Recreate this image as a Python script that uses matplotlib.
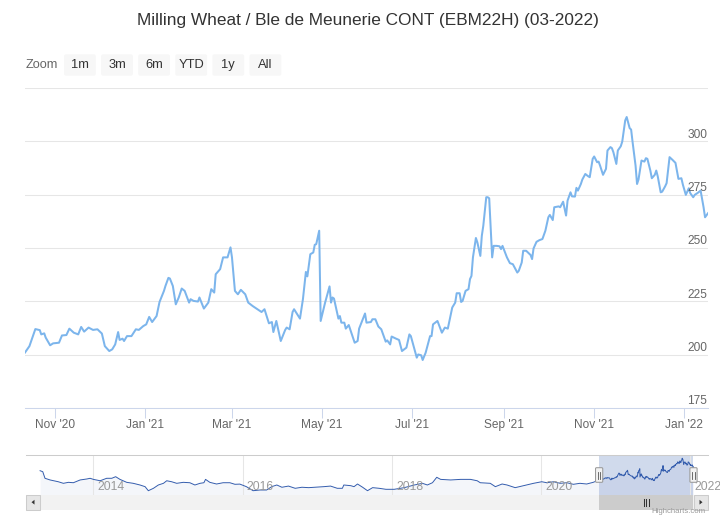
import numpy as np
import pandas as pd
import matplotlib
matplotlib.use("Agg")
import matplotlib.pyplot as plt
import matplotlib.dates as mdates
from matplotlib.patches import Rectangle, FancyBboxPatch, Polygon

plt.rcParams['font.family'] = ['Liberation Sans', 'DejaVu Sans']

# ---- data ----
title = 'Milling Wheat / Ble de Meunerie CONT (EBM22H) (03-2022)'
start = pd.Timestamp('2020-10-01')

# main series: days after 2020-10-01, price (EUR/t)
main_days = [11, 14, 18, 21, 22, 24, 25, 28, 30, 34,
             36, 39, 41, 44, 47, 49, 51, 54, 57, 60,
             63, 65, 68, 70, 72, 74, 75, 77, 78, 80,
             83, 86, 88, 91, 93, 95, 97, 100, 102, 105,
             106, 108, 109, 111, 113, 115, 117, 119, 122, 123,
             125, 128, 129, 132, 135, 137, 139, 140, 143, 145,
             148, 150, 151, 153, 155, 157, 160, 162, 165, 171,
             173, 176, 178, 179, 181, 184, 187, 188, 190, 192,
             193, 197, 199, 201, 202, 204, 206, 207, 208, 210,
             211, 214, 217, 218, 219, 220, 223, 224, 225, 227,
             228, 230, 234, 236, 237, 241, 242, 245, 246, 248,
             250, 252, 255, 256, 258, 259, 262, 264, 266, 269,
             271, 272, 276, 277, 279, 280, 282, 285, 286, 287,
             290, 293, 295, 297, 300, 302, 303, 305, 306, 307,
             309, 311, 312, 313, 314, 316, 317, 319, 320, 321,
             323, 324, 325, 327, 328, 330, 332, 333, 334, 337,
             339, 341, 344, 345, 347, 348, 350, 353, 354, 355,
             357, 359, 361, 363, 365, 366, 368, 369, 372, 373,
             375, 377, 378, 380, 381, 383, 384, 385, 387, 388,
             390, 392, 393, 395, 396, 398, 399, 400, 402, 404,
             405, 407, 408, 409, 411, 412, 414, 415, 417, 418,
             420, 421, 422, 424, 425, 426, 428, 430, 431, 432,
             434, 435, 437, 438, 439, 441, 442, 444, 445, 447,
             449, 451, 453, 455, 456, 458, 460, 461, 463, 464,
             466, 468, 470, 471, 473]
main_prices = [201, 204, 212, 211.5, 209.5, 210, 208, 204.4, 205.3, 205.6,
               209, 209.2, 212.2, 210.3, 209.5, 213, 210.8, 212.7, 211.6, 211.9,
               209.9, 204, 201.7, 202.5, 204.8, 210.6, 206.9, 207.5, 206.4, 208.7,
               208.7, 211.9, 211.6, 213.4, 214.2, 217.7, 215.3, 218.1, 224.7, 229.9,
               232.2, 236, 235.7, 232.2, 223.6, 226.8, 231, 229.9, 224.4, 226,
               225.2, 224.9, 226.8, 221.6, 224.4, 230.7, 229.1, 237.7, 240.1, 245.6,
               245.6, 250.3, 245.6, 229.9, 228.3, 230.4, 228.3, 224.4, 222.8, 220,
               221.3, 214.7, 215.3, 210.6, 215.8, 206.4, 211.6, 212.7, 211.9, 220,
               221.3, 216.9, 226, 238.8, 236.7, 247.1, 247.9, 251.5, 251.8, 258.1,
               215.8, 224.4, 232, 224.4, 226.8, 226.3, 216.9, 218.1, 215, 215,
               212.2, 213.9, 205.6, 206.4, 212.2, 219.3, 215, 215.3, 216.6, 216.6,
               213.2, 211.9, 206.1, 206.7, 204.8, 208.5, 207.5, 206.9, 201.7, 203.3,
               209.5, 208.7, 198.6, 200.1, 199.7, 197.5, 200.9, 208.7, 208.7, 214.2,
               215.8, 210.3, 212.7, 212.2, 222.1, 224.4, 228.8, 228.8, 224.7, 225.2,
               229.9, 230.7, 235.4, 236.9, 245.6, 254.7, 252.6, 246.3, 255.7, 260.4,
               273.8, 273.8, 273.3, 245.6, 251, 251, 250.8, 249.5, 251, 245.6,
               242.9, 242.4, 238.5, 239.3, 243.2, 248.7, 248.7, 246.7, 244.8, 249.8,
               252.9, 253.7, 254.2, 258.1, 264.4, 265.5, 263.1, 269.1, 269.5, 269.1,
               271.7, 265.2, 272.2, 276.1, 274.2, 274.1, 278.2, 276.9, 280, 282.1,
               284.7, 283.6, 283.2, 291.8, 292.9, 290.2, 290.5, 288.6, 284.3, 287.1,
               295.7, 297.3, 296.8, 294.9, 289.4, 295.7, 297.7, 299.9, 309.8, 311.4,
               306.2, 305.5, 299.6, 288.6, 280, 282.1, 291, 290.5, 292.1, 291.8,
               286.3, 282.7, 284.3, 286.3, 283.6, 276.1, 276.4, 278.9, 280.4, 292.6,
               291.3, 289.9, 282.4, 282.7, 279.7, 274.9, 278, 275.7, 273.8, 274.9,
               275.8, 276.9, 269.1, 264.4, 266.3]

# longer history shown in the navigator
hist_dates = ['2013-04-15', '2013-04-28', '2013-05-09', '2013-06-03', '2013-07-13',
              '2013-08-07', '2013-09-01', '2013-09-25', '2013-10-28', '2013-11-30',
              '2013-12-16', '2014-01-01', '2014-02-03', '2014-03-07', '2014-04-01',
              '2014-04-20', '2014-05-11', '2014-06-13', '2014-07-15', '2014-08-17',
              '2014-09-11', '2014-09-27', '2014-10-22', '2014-11-15', '2014-12-10',
              '2014-12-26', '2015-01-19', '2015-02-13', '2015-03-17', '2015-04-18',
              '2015-05-13', '2015-06-07', '2015-06-26', '2015-07-04', '2015-07-25',
              '2015-08-27', '2015-09-28', '2015-10-31', '2015-11-25', '2015-12-19',
              '2016-01-20', '2016-02-22', '2016-03-26', '2016-04-28', '2016-05-23',
              '2016-06-17', '2016-07-12', '2016-08-13', '2016-09-15', '2016-10-18',
              '2016-11-20', '2016-12-23', '2017-02-02', '2017-03-07', '2017-04-09',
              '2017-05-04', '2017-05-11', '2017-06-14', '2017-06-30', '2017-07-17',
              '2017-08-11', '2017-09-04', '2017-09-29', '2017-10-31', '2017-12-03',
              '2018-01-13', '2018-03-03', '2018-04-21', '2018-05-31', '2018-06-24',
              '2018-07-19', '2018-08-09', '2018-08-28', '2018-10-16', '2018-12-04',
              '2019-01-21', '2019-02-23', '2019-03-10', '2019-04-28', '2019-05-23',
              '2019-06-25', '2019-07-19', '2019-08-28', '2019-10-08', '2019-11-26',
              '2020-01-05', '2020-01-30', '2020-03-03', '2020-04-04', '2020-05-07',
              '2020-06-08', '2020-07-10', '2020-08-12', '2020-09-13']
hist_prices = [248, 243, 209.5, 201, 192, 184, 189, 187, 201, 206,
               209.5, 204, 197, 209.5, 209.5, 217.6, 204, 189, 184, 175.5,
               167, 146.5, 158.7, 175.5, 184, 197, 192, 184, 189, 187,
               175.5, 184, 187, 204, 189, 180.5, 187, 187, 179, 180,
               167, 146.5, 150, 150, 167, 175.5, 164, 170, 158.7, 164,
               162, 164, 167, 170, 158.7, 158.7, 175.5, 172, 167, 180.5,
               164, 146.5, 162, 158.7, 153.6, 153.6, 162, 175.5, 184, 175.5,
               187, 214.5, 204, 201, 204, 204, 197, 187, 184, 167,
               180.5, 175.5, 162, 172, 184, 192, 187, 192, 184, 187,
               179, 184, 180.5, 189]

y_ticks = [175, 200, 225, 250, 275, 300, 325]
nav_years = [2014, 2016, 2018, 2020, 2022]
zoom_buttons = ['1m', '3m', '6m', 'YTD', '1y', 'All']

main_dates = start + pd.to_timedelta(main_days, unit='D')
nav_dates = pd.to_datetime(hist_dates).append(main_dates)
nav_prices = hist_prices + main_prices

W, H = 720, 515
fig = plt.figure(figsize=(W / 100, H / 100), dpi=100)


def px_axes(x0, y0, x1, y1, **kw):
    return fig.add_axes([x0 / W, 1 - y1 / H, (x1 - x0) / W, (y1 - y0) / H], **kw)


# ---- main chart ----
ax = px_axes(25, 88, 708, 408)
ax.plot(main_dates, main_prices, color='#7cb5ec', lw=1.45, solid_joinstyle='round')
ax.set_xlim(main_dates[0], main_dates[-1])
ax.set_ylim(175, 325)
ax.set_yticks(y_ticks)
ax.tick_params(axis='y', length=0, labelleft=False)
ax.grid(axis='y', color='#e6e6e6', lw=0.75)
for s in ['top', 'left', 'right']:
    ax.spines[s].set_visible(False)
ax.spines['bottom'].set_color('#ccd6eb')
ax.spines['bottom'].set_linewidth(0.75)
ax.xaxis.set_major_locator(mdates.MonthLocator(bymonth=[1, 3, 5, 7, 9, 11]))
ax.xaxis.set_major_formatter(mdates.DateFormatter("%b '%y"))
ax.tick_params(axis='x', length=7.2, width=0.75, color='#ccd6eb',
               labelsize=8.6, labelcolor='#666666', pad=1)
for v in y_ticks[:-1]:
    ax.annotate(str(v), xy=(1, v), xycoords=('axes fraction', 'data'),
                xytext=(-0.5, 4.8), textcoords='offset points',
                ha='right', va='center', fontsize=8.6, color='#666666')

# ---- navigator ----
nav_x0, nav_x1 = 26, 708
nav_lim = (pd.Timestamp('2013-02-05'), pd.Timestamp('2022-03-29'))
nav = px_axes(nav_x0, 455.3, nav_x1, 495)
nav.plot(nav_dates, nav_prices, color='#335cad', lw=0.7)
nav.fill_between(nav_dates, nav_prices, 0, color='#335cad', alpha=0.05, lw=0)
nav.set_xlim(*nav_lim)
nav.set_ylim(124.7, 326.2)
nav.set_xticks([pd.Timestamp(f'{y}-01-01') for y in nav_years])
nav.set_yticks([])
nav.tick_params(length=0, labelbottom=False)
nav.grid(axis='x', color='#e6e6e6', lw=0.75)
for s in ['bottom', 'left', 'right']:
    nav.spines[s].set_visible(False)
nav.spines['top'].set_color('#cccccc')
nav.spines['top'].set_linewidth(0.75)
for y in nav_years:
    nav.annotate(str(y), xy=(pd.Timestamp(f'{y}-01-01'), 0.2),
                 xycoords=('data', 'axes fraction'), xytext=(3, 0),
                 textcoords='offset points', ha='left', va='center',
                 fontsize=8.7, color='#999999', annotation_clip=False)
nav.axvspan(main_dates[0], main_dates[-1], color=(102 / 255, 133 / 255, 194 / 255),
            alpha=0.3, lw=0)

# ---- overlay in pixel coordinates for UI chrome ----
ov = fig.add_axes([0, 0, 1, 1], zorder=5)
ov.set_xlim(0, W)
ov.set_ylim(H, 0)
ov.axis('off')

n0, n1 = mdates.date2num(nav_lim[0]), mdates.date2num(nav_lim[1])


def nav_px(d):
    return nav_x0 + (mdates.date2num(d) - n0) / (n1 - n0) * (nav_x1 - nav_x0)


hx0, hx1 = nav_px(main_dates[0]), nav_px(main_dates[-1])

# scrollbar
ov.add_patch(Rectangle((26, 495), 682, 14.5, fc='#f2f2f2', ec='none'))
ov.add_patch(Rectangle((hx0, 495), hx1 - hx0, 14.5, fc='#cccccc', ec='none'))
for bx in (26, 694):
    ov.add_patch(Rectangle((bx, 495), 14, 14.5, fc='#e6e6e6', ec='#cccccc', lw=0.75))
ov.add_patch(Polygon([(31.5, 502.2), (34.5, 499.8), (34.5, 504.6)], fc='#333333', ec='none'))
ov.add_patch(Polygon([(702.5, 502.2), (699.5, 499.8), (699.5, 504.6)], fc='#333333', ec='none'))
cx = (hx0 + hx1) / 2
for dx in (-2.5, 0, 2.5):
    ov.plot([cx + dx, cx + dx], [499, 505.5], color='#333333', lw=0.75)

# handles
for hx in (hx0, hx1):
    ov.add_patch(FancyBboxPatch((hx - 3.6, 467.7), 7.2, 14.6,
                                boxstyle='round,pad=0,rounding_size=1',
                                fc='#f2f2f2', ec='#999999', lw=0.75))
    for dx in (-1.1, 1.1):
        ov.plot([hx + dx, hx + dx], [471.5, 478.5], color='#555555', lw=0.6)

# title
fig.text(368 / W, 1 - 20 / H, title, ha='center', va='center',
         fontsize=12.4, color='#333333')

# range selector
ov.text(26, 65.3, 'Zoom', ha='left', va='center', fontsize=9.2, color='#666666')
for i, lab in enumerate(zoom_buttons):
    bx = 64 + i * 37.1
    ov.add_patch(FancyBboxPatch((bx, 54.3), 31.8, 21.4,
                                boxstyle='round,pad=0,rounding_size=2',
                                fc='#f7f7f7', ec='none'))
    ov.text(bx + 15.9, 65.3, lab, ha='center', va='center',
            fontsize=9.3, color='#333333')

# credits, squeezed under the scrollbar
ov.text(705, 514.6, 'Highcharts.com', ha='right', va='bottom',
        fontsize=5.6, color='#999999')

fig.savefig('out.png', dpi=100)
